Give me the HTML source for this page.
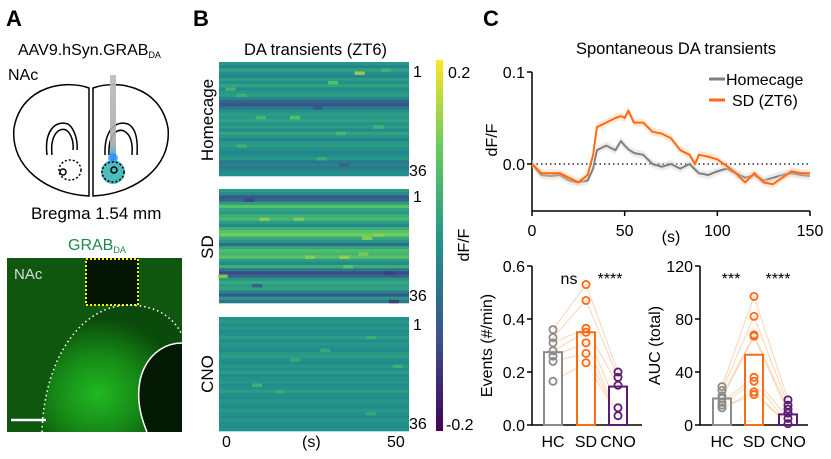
<!DOCTYPE html>
<html><head><meta charset="utf-8"><style>
html,body{margin:0;padding:0;background:#fff}
svg{display:block;font-family:"Liberation Sans",Arial,sans-serif}
</style></head><body>
<svg id="fig" width="831" height="459" viewBox="0 0 831 459" xmlns="http://www.w3.org/2000/svg">
<defs>
<radialGradient id="gfl" cx="0.4" cy="0.7" r="0.6">
<stop offset="0" stop-color="#22b822"/><stop offset="0.5" stop-color="#168a16"/><stop offset="1" stop-color="#0a4a0a"/>
</radialGradient>
<linearGradient id="probe" x1="0" y1="0" x2="0" y2="1">
<stop offset="0" stop-color="#bbb"/><stop offset="0.8" stop-color="#aaa"/><stop offset="1" stop-color="#2a9ee0"/>
</linearGradient>
<linearGradient id="cbar" x1="0" y1="1" x2="0" y2="0">
<stop offset="0" stop-color="#440154"/><stop offset="0.25" stop-color="#3b528b"/><stop offset="0.5" stop-color="#21918c"/><stop offset="0.75" stop-color="#5ec962"/><stop offset="1" stop-color="#fde725"/>
</linearGradient>
</defs>

<!-- Panel A -->
<g>
<text x="6" y="26" font-size="22" font-weight="bold">A</text>
<text x="18" y="55" font-size="16">AAV9.hSyn.GRAB<tspan font-size="9" dy="3">DA</tspan></text>
<text x="8" y="80" font-size="16">NAc</text>
<g fill="none" stroke="#000" stroke-width="1.5">
<path d="M89,88 C68,80 22,84 14,128 C10,168 48,194 89,196 Z"/>
<path d="M93,88 C114,80 160,84 168,128 C172,168 134,194 93,196 Z"/>
<path d="M47,155 C44,130 56,120 68,124 C74,128 78,140 77,150"/>
<path d="M52,155 C50,136 58,127 66,130 C71,133 74,142 73,150"/>
<path d="M105,155 C104,130 116,120 128,124 C136,128 138,140 137,155"/>
<path d="M109,155 C108,136 116,128 124,131 C130,134 133,142 132,155"/>
<circle cx="113" cy="172" r="12" fill="#2fb0b0" stroke="none" opacity="0.85"/>
<rect x="110" y="75" width="6" height="85" fill="url(#probe)" stroke="none" opacity="0.9"/>
<circle cx="113" cy="158" r="5" fill="#1e90ff" stroke="none" opacity="0.7"/>
<ellipse cx="70" cy="170" rx="11" ry="10" stroke-dasharray="2,2"/>
<ellipse cx="113" cy="172" rx="11" ry="10" stroke-dasharray="2,2"/>
<circle cx="63" cy="172" r="3"/>
<circle cx="114" cy="170" r="3"/>
</g>
<text x="31" y="219" font-size="17">Bregma 1.54 mm</text>
<text x="68" y="250" font-size="16" fill="#1e8a4a">GRAB<tspan font-size="9" dy="3">DA</tspan></text>
<g>
<rect x="7" y="258" width="175" height="174" fill="#0f560f"/>
<path d="M42,432 C44,360 80,305 130,305 C160,306 175,320 182,335 L182,432 Z" fill="url(#gfl)"/>
<rect x="86" y="258" width="53" height="47" fill="#051505"/>
<rect x="86" y="259" width="52" height="46" fill="none" stroke="#ffee00" stroke-width="2" stroke-dasharray="2,2"/>
<path d="M42,432 C44,360 80,305 130,305 C160,306 175,320 182,335" fill="none" stroke="#fff" stroke-width="1.5" stroke-dasharray="1.5,3"/>
<path d="M182,343 C150,343 125,380 147,432 L182,432 Z" fill="#041a04"/>
<path d="M182,343 C150,343 125,380 147,432" fill="none" stroke="#fff" stroke-width="1.5"/>
<line x1="11" y1="420" x2="46" y2="420" stroke="#fff" stroke-width="2.5"/>
<text x="14" y="279" font-size="15" fill="#ddd">NAc</text>
</g>
</g>

<!-- Panel B -->
<g id="panelB">
<text x="193" y="26" font-size="22" font-weight="bold">B</text>
<text x="244" y="55" font-size="16.5">DA transients (ZT6)</text>
<text transform="translate(213,120) rotate(-90)" font-size="17" text-anchor="middle">Homecage</text>
<text transform="translate(213,247) rotate(-90)" font-size="17" text-anchor="middle">SD</text>
<text transform="translate(213,374) rotate(-90)" font-size="17" text-anchor="middle">CNO</text>
<g id="heatmaps"></g>
<text x="413" y="77" font-size="16">1</text>
<text x="409" y="176" font-size="16">36</text>
<text x="413" y="202" font-size="16">1</text>
<text x="409" y="301" font-size="16">36</text>
<text x="413" y="330" font-size="16">1</text>
<text x="409" y="429" font-size="16">36</text>
<text x="222" y="447" font-size="16">0</text>
<text x="302" y="447" font-size="16">(s)</text>
<text x="387" y="447" font-size="16">50</text>
<rect x="436" y="60" width="7" height="371" fill="url(#cbar)"/>
<text x="448" y="78" font-size="16">0.2</text>
<text x="446" y="430" font-size="16">-0.2</text>
<text transform="translate(469,245) rotate(-90)" font-size="16" text-anchor="middle">dF/F</text>
</g>

<!-- Panel C -->
<g id="panelC">
<text x="483" y="26" font-size="22" font-weight="bold">C</text>
<text x="576" y="54" font-size="16.5">Spontaneous DA transients</text>
<g id="trace"></g>
<g id="bars1"></g>
<g id="bars2"></g>
</g>
</svg>
<script>
// ===== Heatmap data (row means, dF/F) =====
const hmHomecage = [0.01,-0.02,0.03,0.0,-0.02,0.02,0.0,0.03,-0.01,0.01,0.02,-0.02,-0.07,-0.1,-0.04,0.0,0.02,0.01,0.03,0.0,0.02,-0.01,0.03,0.01,-0.02,0.01,0.02,0.0,-0.02,-0.01,0.01,-0.04,-0.02,-0.04,-0.01,0.0];
const hmSD = [0.02,-0.01,-0.09,-0.07,0.02,0.09,0.03,0.01,0.05,0.07,0.02,-0.01,0.05,0.09,0.11,0.04,0.01,-0.06,0.03,0.08,0.06,0.09,0.02,-0.01,0.05,-0.04,-0.11,-0.07,0.01,0.04,0.02,0.03,-0.02,-0.09,0.01,-0.04];
const hmCNO = [0.0,0.01,-0.01,0.01,-0.01,0.0,0.02,-0.01,0.01,0.0,-0.01,0.01,0.02,0.0,-0.01,0.01,0.0,0.02,-0.01,0.0,0.01,-0.01,0.0,0.02,0.0,-0.01,0.01,0.0,-0.01,0.01,0.0,-0.01,0.01,0.0,-0.01,0.0];
// hotspots: [row, time (s), value]
const spotsHomecage = [[3,37,0.15],[6,30,0.1],[8,3,0.07],[10,6,0.06],[17,11,0.08],[17,20,0.1],[20,42,0.07],[22,32,0.08],[26,6,0.06],[30,27,0.06],[2,44,0.07],[14,26,-0.1],[32,33,-0.08]];
const spotsSD = [[9,12,0.13],[9,21,0.12],[21,24,0.13],[21,33,0.14],[20,38,0.12],[15,39,0.14],[14,42,0.13],[27,1,0.14],[24,34,0.1],[3,8,-0.12],[26,45,-0.13],[35,46,-0.14],[30,10,-0.1]];
const spotsCNO = [[6,40,0.06],[10,28,0.05],[15,47,0.06],[21,10,0.07],[23,16,0.05],[30,40,0.05],[13,20,0.05]];

// ===== Trace data =====
const traceTime = [0,5,10,15,20,25,30,33,35,40,45,48,50,52,55,60,65,70,75,80,85,88,90,95,100,105,110,115,120,125,130,135,140,145,150];
const traceHomecage = [0,-0.012,-0.013,-0.012,-0.018,-0.02,-0.018,-0.005,0.015,0.02,0.015,0.025,0.02,0.016,0.012,0.01,0.0,-0.003,0.0,-0.005,0.0,-0.006,-0.01,-0.012,-0.008,-0.005,-0.01,-0.015,-0.012,-0.018,-0.015,-0.012,-0.01,-0.012,-0.013];
const traceSD = [0,-0.01,-0.01,-0.01,-0.015,-0.02,-0.012,0.01,0.04,0.045,0.05,0.052,0.05,0.058,0.045,0.045,0.035,0.033,0.028,0.015,0.01,0.0,0.01,0.008,0.005,-0.002,-0.01,-0.02,-0.01,-0.02,-0.022,-0.015,-0.008,-0.01,-0.01];
const traceXTicks = [0,50,100,150];
const traceYTicks = [0.1,0.0];

// ===== Bar data =====
const groups = ["HC","SD","CNO"];
const eventsHC = [0.36,0.33,0.31,0.28,0.26,0.24,0.165];
const eventsSD = [0.53,0.47,0.365,0.35,0.31,0.27,0.235];
const eventsCNO = [0.2,0.18,0.15,0.065,0.035];
const eventsMeans = [0.275,0.35,0.145];
const eventsTicks = [0.0,0.2,0.4,0.6];
const aucHC = [29,26,22,20,17,15,13];
const aucSD = [97,82,68,67,36,33,25,23];
const aucCNO = [19,15,12,9,5,1];
const aucMeans = [20,53,8];
const aucTicks = [0,40,80,120];

const NS = "http://www.w3.org/2000/svg";
function mk(tag, attrs, parent){const e=document.createElementNS(NS,tag);for(const k in attrs)e.setAttribute(k,attrs[k]);parent.appendChild(e);return e;}

const vStops=[[68,1,84],[59,82,139],[33,145,140],[94,201,98],[253,231,37]];
function viridis(v){let t=(v+0.2)/0.4;t=Math.max(0,Math.min(1,t));const p=t*4;const i=Math.min(3,Math.floor(p));const f=p-i;const a=vStops[i],b=vStops[i+1];return `rgb(${a.map((c,j)=>Math.round(c+(b[j]-c)*f)).join(',')})`;}

// heatmaps
const hmG=document.getElementById('heatmaps');
const hmDefs=[["homecage",hmHomecage,spotsHomecage,62],["sd",hmSD,spotsSD,189],["cno",hmCNO,spotsCNO,317]];
const hmX=219, hmW=190, hmH=114;
hmDefs.forEach(([name,rows,spots,top])=>{
  const g=mk('g',{},hmG);
  
  
  const rh=hmH/rows.length;
  rows.forEach((v,i)=>{
    const r=mk('rect',{x:hmX,y:(top+i*rh).toFixed(2),width:hmW,height:(rh+0.3).toFixed(2),fill:viridis(v)},g);
    
    
  });
  spots.forEach(([row,t,v])=>{
    const x=hmX+(t/50)*hmW;
    const r=mk('rect',{x:(x-5).toFixed(1),y:(top+row*rh).toFixed(2),width:10,height:(rh+0.3).toFixed(2),fill:viridis(v),opacity:0.8},g);
    
    
  });
});

// trace chart
const tr=document.getElementById('trace');
const tx0=532, tx1=810, ty0=164, tyPer=920;
const txS=t=>tx0+(t/150)*(tx1-tx0);
const tyS=v=>ty0-v*tyPer;
let ax=mk('path',{d:`M${tx0},${tyS(0.1)} V211 H${tx1}`,fill:'none',stroke:'#000','stroke-width':1.5},tr);


let zl=mk('line',{x1:tx0,y1:ty0,x2:tx1,y2:ty0,stroke:'#000','stroke-width':1.3,'stroke-dasharray':'1.5,3'},tr);


traceYTicks.forEach(v=>{
  const y=tyS(v);
  mk('line',{x1:tx0-5,y1:y,x2:tx0,y2:y,stroke:'#000','stroke-width':1.5},tr);
  const t=mk('text',{x:tx0-7,y:y+6,'font-size':16,'text-anchor':'end'},tr);
  t.textContent=v.toFixed(1);
  
  
});
traceXTicks.forEach(v=>{
  const x=txS(v);
  mk('line',{x1:x,y1:211,x2:x,y2:216,stroke:'#000','stroke-width':1.5},tr);
  const t=mk('text',{x:x,y:236,'font-size':16,'text-anchor':'middle'},tr);
  t.textContent=v;
  
  
});
let xt=mk('text',{x:671,y:242,'font-size':16,'text-anchor':'middle'},tr);xt.textContent='(s)';


let yt=mk('text',{transform:'translate(497,140) rotate(-90)','font-size':16,'text-anchor':'middle'},tr);yt.textContent='dF/F';


function drawTrace(vals,color,band,name){
  const pts=traceTime.map((t,i)=>[txS(t),tyS(vals[i])]);
  const up=pts.map(p=>`${p[0].toFixed(1)},${(p[1]-4).toFixed(1)}`);
  const dn=pts.slice().reverse().map(p=>`${p[0].toFixed(1)},${(p[1]+4).toFixed(1)}`);
  const b=mk('polygon',{points:up.concat(dn).join(' '),fill:band,opacity:0.4},tr);
  
  
  const l=mk('polyline',{points:pts.map(p=>p.join(',')).join(' '),fill:'none',stroke:color,'stroke-width':2,'stroke-linejoin':'round'},tr);
  
  
}
drawTrace(traceHomecage,'#808080','#cfcfcf','homecage');
drawTrace(traceSD,'#ff6a13','#ffc79e','sd');
let lg=mk('g',{},tr);


mk('line',{x1:709,y1:79,x2:725,y2:79,stroke:'#808080','stroke-width':3},lg);
let lt1=mk('text',{x:726,y:85,'font-size':16},lg);lt1.textContent='Homecage';


mk('line',{x1:709,y1:100,x2:725,y2:100,stroke:'#ff6a13','stroke-width':3},lg);
let lt2=mk('text',{x:732,y:106,'font-size':16},lg);lt2.textContent='SD (ZT6)';



// bar charts
const colors=['#8c8c8c','#ff6a13','#5b1a73'];
function barChart(gid,name,x0,xEnd,centers,ticks,maxV,sets,means,ytitle,stars,tickFmt){
  const g=document.getElementById(gid);
  const yB=425,yT=266;
  const yS=v=>yB-(v/maxV)*(yB-yT);
  const a=mk('path',{d:`M${x0},${yT} V${yB} H${xEnd}`,fill:'none',stroke:'#000','stroke-width':1.5},g);
  
  
  ticks.forEach(v=>{
    const y=yS(v);
    mk('line',{x1:x0-5,y1:y,x2:x0,y2:y,stroke:'#000','stroke-width':1.5},g);
    const t=mk('text',{x:x0-7,y:y+6,'font-size':16,'text-anchor':'end'},g);
    t.textContent=tickFmt(v);
    
    
  });
  const yt=mk('text',{transform:`translate(${x0-40},${(yB+yT)/2}) rotate(-90)`,'font-size':16,'text-anchor':'middle'},g);
  yt.textContent=ytitle;
  
  
  const n=Math.max(...sets.map(s=>s.length));
  for(let i=0;i<n;i++){
    const pts=[];
    sets.forEach((s,k)=>{const v=s[Math.min(i,s.length-1)];pts.push(`${centers[k]},${yS(v)}`);});
    const l=mk('polyline',{points:pts.join(' '),fill:'none',stroke:'#ffc9a3','stroke-width':1,opacity:0.8},g);
    
    
  }
  means.forEach((m,k)=>{
    const r=mk('rect',{x:centers[k]-9,y:yS(m),width:18,height:yB-yS(m),fill:'#fff','fill-opacity':0.6,stroke:colors[k],'stroke-width':2},g);
    
    
  });
  sets.forEach((s,k)=>s.forEach(v=>{
    const c=mk('circle',{cx:centers[k],cy:yS(v),r:3.6,fill:'none',stroke:colors[k],'stroke-width':1.8},g);
    
    
  }));
  groups.forEach((gname,k)=>{
    const t=mk('text',{x:centers[k],y:447,'font-size':16,'text-anchor':'middle'},g);
    t.textContent=gname;
    
    
  });
  stars.forEach(([txt,x])=>{
    const t=mk('text',{x:x,y:284,'font-size':16,'text-anchor':'middle'},g);
    t.textContent=txt;
    
    
  });
}
barChart('bars1','events',532,642,[553,586,618],eventsTicks,0.6,[eventsHC,eventsSD,eventsCNO],eventsMeans,'Events (#/min)',[['ns',569],['****',610]],v=>v.toFixed(1));
barChart('bars2','auc',700,808,[722,754,788],aucTicks,120,[aucHC,aucSD,aucCNO],aucMeans,'AUC (total)',[['***',731],['****',778]],v=>String(v));
</script>
</body></html>
